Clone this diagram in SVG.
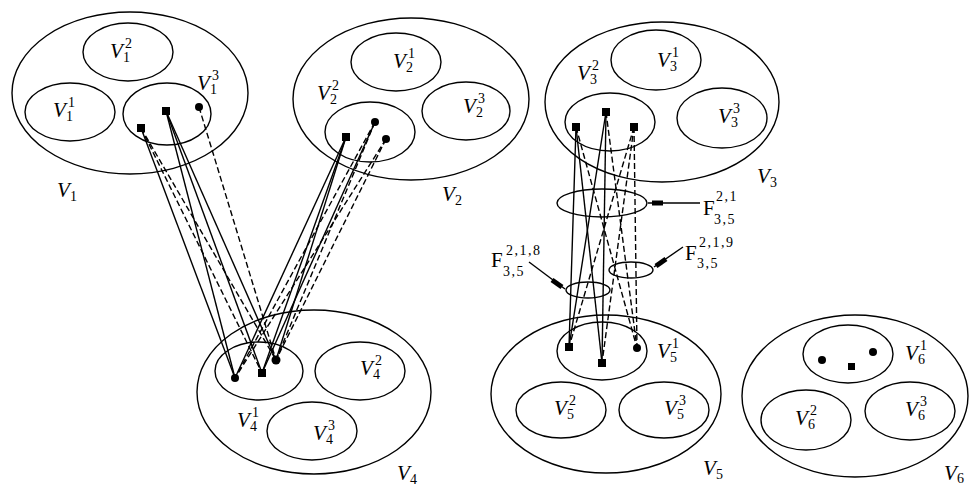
<svg xmlns="http://www.w3.org/2000/svg" width="969" height="488" viewBox="0 0 969 488">
<style>
.e{fill:none;stroke:#000;stroke-width:1.4}
.s{fill:none;stroke:#000;stroke-width:1.4}
.d{fill:none;stroke:#000;stroke-width:1.4;stroke-dasharray:6 3}
.v{font-family:"Liberation Serif",serif;font-style:italic;font-size:21px;fill:#000}
.n{font-family:"Liberation Serif",serif;font-style:normal;font-size:14px}
.f{font-family:"Liberation Serif",serif;font-size:21px;fill:#000}
.fn{font-size:14px;letter-spacing:1.5px}
.dot{fill:#000}
.blk{stroke:#000;stroke-width:5}
</style>
<rect width="969" height="488" fill="#fff"/>

<g id="connectors">
  <!-- V1^3 to V4^1 -->
  <line class="s" x1="141" y1="128" x2="235" y2="378"/>
  <line class="d" x1="141" y1="128" x2="262" y2="373"/>
  <line class="d" x1="141" y1="128" x2="276" y2="360"/>
  <line class="s" x1="166" y1="111" x2="235" y2="378"/>
  <line class="s" x1="166" y1="111" x2="262" y2="373"/>
  <line class="s" x1="166" y1="111" x2="276" y2="360"/>
  <line class="d" x1="199" y1="107" x2="276" y2="360"/>
  <!-- V2^2 to V4^1 -->
  <line class="s" x1="346" y1="137" x2="235" y2="378"/>
  <line class="s" x1="346" y1="137" x2="262" y2="373"/>
  <line class="s" x1="346" y1="137" x2="276" y2="360"/>
  <line class="d" x1="375" y1="122" x2="235" y2="378"/>
  <line class="s" x1="375" y1="122" x2="262" y2="373"/>
  <line class="d" x1="375" y1="122" x2="276" y2="360"/>
  <line class="d" x1="386" y1="139" x2="235" y2="378"/>
  <line class="d" x1="386" y1="139" x2="276" y2="360"/>
  <!-- V3^2 to V5^1 -->
  <line class="s" x1="576" y1="127" x2="569" y2="347"/>
  <line class="s" x1="576" y1="127" x2="602" y2="363"/>
  <line class="d" x1="576" y1="127" x2="637" y2="348"/>
  <line class="s" x1="606" y1="112" x2="569" y2="347"/>
  <line class="s" x1="606" y1="112" x2="602" y2="363"/>
  <line class="d" x1="606" y1="112" x2="637" y2="348"/>
  <line class="d" x1="634" y1="127" x2="569" y2="347"/>
  <line class="d" x1="634" y1="127" x2="602" y2="363"/>
  <line class="d" x1="634" y1="127" x2="637" y2="348"/>
</g>

<g id="V1">
  <ellipse class="e" cx="130" cy="93" rx="118" ry="81"/>
  <ellipse class="e" cx="128" cy="52" rx="45" ry="29"/>
  <ellipse class="e" cx="70" cy="112" rx="45" ry="29"/>
  <ellipse class="e" cx="167" cy="114" rx="44" ry="31"/>
  <rect class="dot" x="137" y="124" width="8" height="8"/>
  <rect class="dot" x="162" y="107" width="8" height="8"/>
  <circle class="dot" cx="199" cy="107" r="4"/>
  <text class="v" x="110" y="58">V<tspan class="n" x="123" y="62">1</tspan><tspan class="n" x="125" y="48">2</tspan></text>
  <text class="v" x="53" y="117">V<tspan class="n" x="66" y="121">1</tspan><tspan class="n" x="68" y="107">1</tspan></text>
  <text class="v" x="197" y="90">V<tspan class="n" x="210" y="94">1</tspan><tspan class="n" x="212" y="80">3</tspan></text>
  <text class="v" x="57" y="197">V<tspan class="n" x="70" y="201">1</tspan></text>
</g>

<g id="V2">
  <ellipse class="e" cx="411" cy="99" rx="118" ry="81"/>
  <ellipse class="e" cx="396" cy="62" rx="45" ry="29"/>
  <ellipse class="e" cx="466" cy="111" rx="44" ry="29"/>
  <ellipse class="e" cx="370" cy="132" rx="45" ry="30"/>
  <rect class="dot" x="342" y="133" width="8" height="8"/>
  <circle class="dot" cx="375" cy="122" r="4"/>
  <circle class="dot" cx="386" cy="139" r="4"/>
  <text class="v" x="393" y="68">V<tspan class="n" x="406" y="72">2</tspan><tspan class="n" x="408" y="58">1</tspan></text>
  <text class="v" x="317" y="100">V<tspan class="n" x="330" y="104">2</tspan><tspan class="n" x="332" y="90">2</tspan></text>
  <text class="v" x="463" y="113">V<tspan class="n" x="476" y="117">2</tspan><tspan class="n" x="478" y="103">3</tspan></text>
  <text class="v" x="442" y="201">V<tspan class="n" x="455" y="205">2</tspan></text>
</g>

<g id="V3">
  <ellipse class="e" cx="662" cy="102" rx="117" ry="80"/>
  <ellipse class="e" cx="656" cy="60" rx="45" ry="30"/>
  <ellipse class="e" cx="722" cy="118" rx="45" ry="30"/>
  <ellipse class="e" cx="610" cy="122" rx="45" ry="29"/>
  <rect class="dot" x="572" y="123" width="8" height="8"/>
  <rect class="dot" x="602" y="108" width="8" height="8"/>
  <rect class="dot" x="630" y="123" width="8" height="8"/>
  <text class="v" x="577" y="80">V<tspan class="n" x="590" y="84">3</tspan><tspan class="n" x="592" y="70">2</tspan></text>
  <text class="v" x="657" y="67">V<tspan class="n" x="670" y="71">3</tspan><tspan class="n" x="672" y="57">1</tspan></text>
  <text class="v" x="718" y="123">V<tspan class="n" x="731" y="127">3</tspan><tspan class="n" x="733" y="113">3</tspan></text>
  <text class="v" x="757" y="183">V<tspan class="n" x="770" y="187">3</tspan></text>
</g>

<g id="V4">
  <ellipse class="e" cx="314" cy="392" rx="117" ry="82"/>
  <ellipse class="e" cx="259" cy="371" rx="44" ry="29"/>
  <ellipse class="e" cx="360" cy="371" rx="45" ry="29"/>
  <ellipse class="e" cx="312" cy="431" rx="45" ry="29"/>
  <circle class="dot" cx="235" cy="378" r="4"/>
  <rect class="dot" x="258" y="369" width="8" height="8"/>
  <circle class="dot" cx="276" cy="360" r="4.5"/>
  <text class="v" x="237" y="427">V<tspan class="n" x="250" y="431">4</tspan><tspan class="n" x="252" y="417">1</tspan></text>
  <text class="v" x="360" y="375">V<tspan class="n" x="373" y="379">4</tspan><tspan class="n" x="375" y="365">2</tspan></text>
  <text class="v" x="313" y="440">V<tspan class="n" x="326" y="444">4</tspan><tspan class="n" x="328" y="430">3</tspan></text>
  <text class="v" x="397" y="480">V<tspan class="n" x="410" y="484">4</tspan></text>
</g>

<g id="V5">
  <ellipse class="e" cx="606" cy="394" rx="115" ry="79"/>
  <ellipse class="e" cx="602" cy="351" rx="45" ry="29"/>
  <ellipse class="e" cx="561" cy="410" rx="45" ry="28"/>
  <ellipse class="e" cx="664" cy="410" rx="45" ry="28"/>
  <rect class="dot" x="565" y="343" width="8" height="8"/>
  <rect class="dot" x="598" y="359" width="8" height="8"/>
  <circle class="dot" cx="637" cy="348" r="4"/>
  <text class="v" x="657" y="358">V<tspan class="n" x="670" y="362">5</tspan><tspan class="n" x="672" y="348">1</tspan></text>
  <text class="v" x="554" y="415">V<tspan class="n" x="567" y="419">5</tspan><tspan class="n" x="569" y="405">2</tspan></text>
  <text class="v" x="664" y="415">V<tspan class="n" x="677" y="419">5</tspan><tspan class="n" x="679" y="405">3</tspan></text>
  <text class="v" x="703" y="475">V<tspan class="n" x="716" y="479">5</tspan></text>
</g>

<g id="V6">
  <ellipse class="e" cx="855" cy="396" rx="113" ry="81"/>
  <ellipse class="e" cx="848" cy="354" rx="45" ry="29"/>
  <ellipse class="e" cx="806" cy="420" rx="45" ry="30"/>
  <ellipse class="e" cx="910" cy="411" rx="45" ry="29"/>
  <circle class="dot" cx="822" cy="360" r="4"/>
  <rect class="dot" x="848" y="363" width="7" height="7"/>
  <circle class="dot" cx="873" cy="352" r="4"/>
  <text class="v" x="905" y="360">V<tspan class="n" x="918" y="364">6</tspan><tspan class="n" x="920" y="350">1</tspan></text>
  <text class="v" x="795" y="425">V<tspan class="n" x="808" y="429">6</tspan><tspan class="n" x="810" y="415">2</tspan></text>
  <text class="v" x="905" y="416">V<tspan class="n" x="918" y="420">6</tspan><tspan class="n" x="920" y="406">3</tspan></text>
  <text class="v" x="944" y="480">V<tspan class="n" x="957" y="483">6</tspan></text>
</g>

<g id="F21">
  <ellipse class="e" cx="602" cy="203" rx="45" ry="14"/>
  <line class="s" x1="648" y1="203" x2="700" y2="203"/>
  <line class="blk" x1="652" y1="203" x2="663" y2="203"/>
  <text class="f" x="703" y="215">F<tspan class="fn" x="716" y="201">2,1</tspan><tspan class="fn" x="714" y="224">3,5</tspan></text>
</g>

<g id="F219">
  <ellipse class="e" cx="631" cy="270" rx="22" ry="8"/>
  <line class="s" x1="654" y1="267" x2="683" y2="247"/>
  <line class="blk" x1="656" y1="266" x2="666" y2="259"/>
  <text class="f" x="685" y="260">F<tspan class="fn" x="699" y="247">2,1,9</tspan><tspan class="fn" x="697" y="268">3,5</tspan></text>
</g>

<g id="F218">
  <ellipse class="e" cx="588" cy="290" rx="22" ry="8"/>
  <line class="s" x1="565" y1="289" x2="529" y2="262"/>
  <line class="blk" x1="562" y1="287" x2="552" y2="280"/>
  <text class="f" x="491" y="267">F<tspan class="fn" x="506" y="255">2,1,8</tspan><tspan class="fn" x="503" y="276">3,5</tspan></text>
</g>
</svg>
